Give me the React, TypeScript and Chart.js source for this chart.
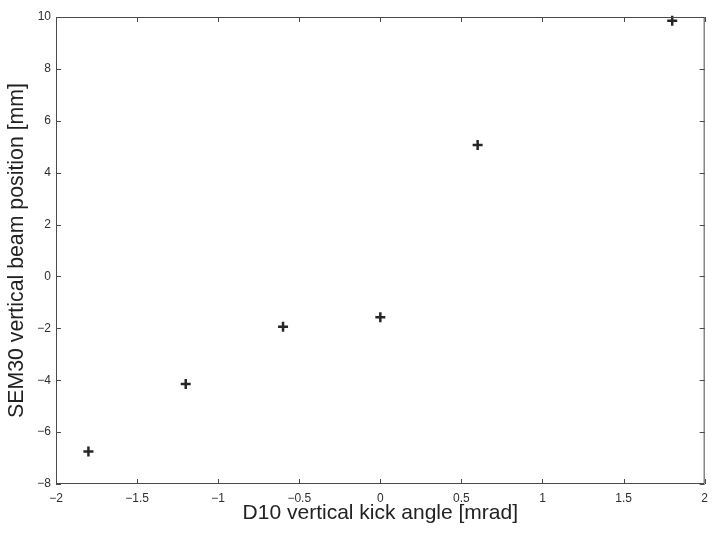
import React, { useEffect, useRef } from "react";
import { Chart, registerables } from "chart.js";

Chart.register(...registerables);

const kickAngles = [-1.8, -1.2, -0.6, 0, 0.6, 1.8];
const beamPositions = [-6.75, -4.15, -1.94, -1.57, 5.07, 9.86];
const xTicks = [-2, -1.5, -1, -0.5, 0, 0.5, 1, 1.5, 2];
const yTicks = [-8, -6, -4, -2, 0, 2, 4, 6, 8, 10];
const xTitle = "D10 vertical kick angle [mrad]";
const yTitle = "SEM30 vertical beam position [mm]";

const FONT = "'Liberation Sans', Arial, Helvetica, sans-serif";
const fmt = (v: any) => String(v).replace("-", "\u2212");

const boxTicks = {
  id: "boxTicks",
  afterDraw(chart: any) {
    const { ctx, chartArea: a, scales } = chart;
    const len = 5;
    ctx.save();
    ctx.strokeStyle = "#4a4a4a";
    ctx.lineWidth = 1;
    ctx.beginPath();
    ctx.rect(a.left + 0.5, a.top + 0.5, a.right - a.left - 1, a.bottom - a.top - 1);
    xTicks.forEach((v) => {
      const px = Math.round(scales.x.getPixelForValue(v)) + 0.5;
      ctx.moveTo(px, a.bottom);
      ctx.lineTo(px, a.bottom - len);
      ctx.moveTo(px, a.top);
      ctx.lineTo(px, a.top + len);
    });
    yTicks.forEach((v) => {
      const py = Math.round(scales.y.getPixelForValue(v)) + 0.5;
      ctx.moveTo(a.left, py);
      ctx.lineTo(a.left + len, py);
      ctx.moveTo(a.right, py);
      ctx.lineTo(a.right - len, py);
    });
    ctx.stroke();
    ctx.restore();
  },
};

export default function App() {
  const ref = useRef<HTMLCanvasElement | null>(null);
  useEffect(() => {
    if (!ref.current) return;
    const chart = new Chart(ref.current, {
      type: "scatter",
      data: {
        datasets: [
          {
            data: kickAngles.map((x, i) => ({ x, y: beamPositions[i] })),
            pointStyle: "cross",
            pointRadius: 5,
            pointBorderWidth: 2.5,
            borderColor: "#262626",
            backgroundColor: "#262626",
            clip: false as any,
          },
        ],
      },
      options: {
        animation: false,
        responsive: false,
        maintainAspectRatio: false,
        layout: { padding: { top: 17, right: 8, left: 0, bottom: 0 } },
        plugins: { legend: { display: false }, tooltip: { enabled: false } },
        scales: {
          x: {
            type: "linear",
            min: -2,
            max: 2,
            afterBuildTicks: (s: any) => {
              s.ticks = xTicks.map((v) => ({ value: v }));
            },
            afterFit: (s: any) => {
              s.height = 49;
            },
            grid: { display: false, drawTicks: false },
            border: { display: false },
            ticks: {
              padding: 7,
              color: "#2e2e2e",
              font: { family: FONT, size: 12 },
              callback: fmt,
              maxRotation: 0,
            },
            title: {
              display: true,
              text: xTitle,
              color: "#222",
              font: { family: FONT, size: 21 },
              padding: { top: 0, bottom: 7 },
            },
          },
          y: {
            type: "linear",
            min: -8,
            max: 10,
            afterBuildTicks: (s: any) => {
              s.ticks = yTicks.map((v) => ({ value: v }));
            },
            afterFit: (s: any) => {
              s.width = 56;
            },
            grid: { display: false, drawTicks: false },
            border: { display: false },
            ticks: {
              padding: 5,
              color: "#2e2e2e",
              font: { family: FONT, size: 12 },
              callback: fmt,
            },
            title: {
              display: true,
              text: yTitle,
              color: "#222",
              font: { family: FONT, size: 21.3 },
              padding: { top: 4, bottom: 0 },
            },
          },
        },
      },
      plugins: [boxTicks],
    });
    return () => chart.destroy();
  }, []);
  return (
    <div style={{ position: "fixed", left: 0, top: 0, width: 715, height: 533, background: "#fff" }}>
      <canvas ref={ref} width={715} height={533} style={{ width: 715, height: 533 }} />
    </div>
  );
}
